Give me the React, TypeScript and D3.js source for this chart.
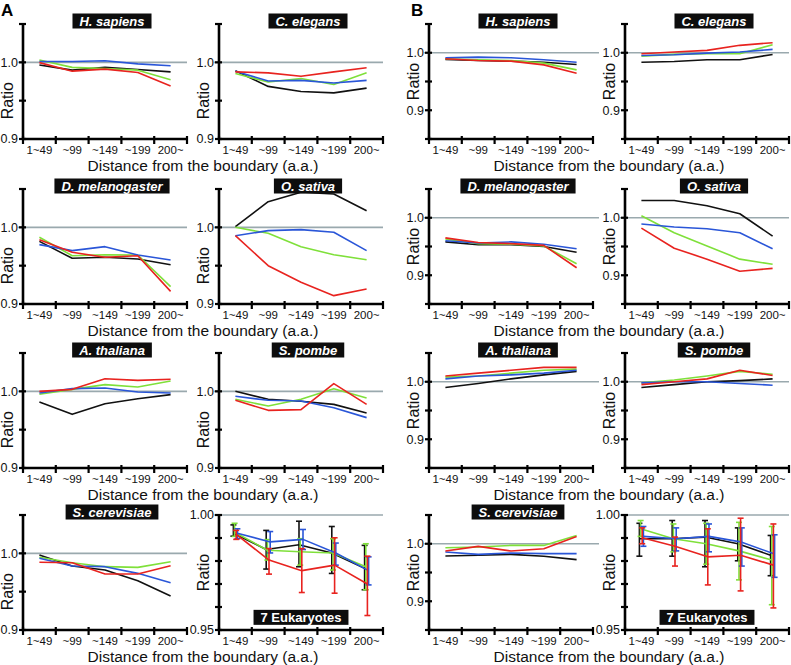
import React from "react";
import * as d3 from "d3";

const categories = ["1~49", "~99", "~149", "~199", "200~"];
// series order in every panel: black, green, blue, red
const seriesKeys = ["black", "green", "blue", "red"];
const seriesColors: Record<string, string> = {
  black: "#111111",
  green: "#7fe03a",
  blue: "#2a56d8",
  red: "#e8231f",
};

// ---------- Panel A ----------
const aHSapiens = [
  [0.9965, 0.9898, 0.9934, 0.9907, 0.9876],
  [1.003, 0.9934, 0.992, 0.9898, 0.9774],
  [1.001, 1.001, 1.002, 0.998, 0.9956],
  [0.9996, 0.9885, 0.9912, 0.9867, 0.969],
];
const aCElegans = [
  [0.989, 0.9686, 0.962, 0.9602, 0.9664],
  [0.9854, 0.9743, 0.9788, 0.9712, 0.9863],
  [0.9885, 0.9757, 0.9765, 0.973, 0.9765],
  [0.9876, 0.9863, 0.9819, 0.9876, 0.9929],
];
const aDMelanogaster = [
  [0.9817, 0.9596, 0.9609, 0.9587, 0.9513],
  [0.987, 0.963, 0.9643, 0.9639, 0.9226],
  [0.9774, 0.9696, 0.9748, 0.9639, 0.9574],
  [0.9839, 0.9674, 0.9609, 0.963, 0.9165],
];
const aOSativa = [
  [1.0009, 1.0335, 1.0457, 1.0435, 1.0217],
  [1.0, 0.9922, 0.9748, 0.9643, 0.9578],
  [0.9891, 0.9957, 0.997, 0.9935, 0.9696],
  [0.9891, 0.95, 0.9283, 0.9109, 0.9196],
];
const aAThaliana = [
  [0.9861, 0.97, 0.9839, 0.9904, 0.9957],
  [0.9961, 1.0026, 1.0087, 1.0057, 1.0135],
  [0.9978, 1.0035, 1.0043, 0.9991, 0.9978],
  [1.0, 1.0026, 1.0165, 1.0143, 1.0157],
];
const aSPombe = [
  [1.0, 0.9896, 0.987, 0.983, 0.9717],
  [0.9896, 0.9809, 0.9896, 1.0035, 0.9913],
  [0.9935, 0.9883, 0.9874, 0.9787, 0.9657],
  [0.9883, 0.9752, 0.9761, 1.01, 0.983],
];
const aSCerevisiae = [
  [0.9978, 0.9835, 0.9783, 0.9643, 0.9443],
  [0.9948, 0.9878, 0.9826, 0.9817, 0.9891],
  [0.9935, 0.9835, 0.9826, 0.9739, 0.9617],
  [0.9883, 0.9878, 0.973, 0.973, 0.9839],
];
const aEukMean = [
  [0.9921, 0.985, 0.9871, 0.9835, 0.9768],
  [0.9925, 0.9847, 0.984, 0.9835, 0.9775],
  [0.9921, 0.9883, 0.9894, 0.9835, 0.9758],
  [0.9916, 0.9804, 0.9758, 0.9782, 0.97],
];
const aEukHigh = [
  [0.9957, 0.9933, 0.9973, 0.995, 0.9868],
  [0.9964, 0.9893, 0.9897, 0.9897, 0.9875],
  [0.994, 0.9928, 0.9937, 0.9878, 0.9818],
  [0.9933, 0.9854, 0.9854, 0.9901, 0.9821],
];
const aEukLow = [
  [0.9908, 0.9765, 0.9775, 0.9746, 0.9675],
  [0.9907, 0.9804, 0.9782, 0.9761, 0.9675],
  [0.9897, 0.9835, 0.985, 0.9782, 0.9696],
  [0.9894, 0.9743, 0.9663, 0.966, 0.9563],
];

// ---------- Panel B ----------
const bHSapiens = [
  [0.9883, 0.9865, 0.9854, 0.9836, 0.9795],
  [0.9895, 0.9877, 0.9865, 0.9819, 0.9702],
  [0.9912, 0.9924, 0.9912, 0.9877, 0.9836],
  [0.9895, 0.9865, 0.9854, 0.9789, 0.9643],
];
const bCElegans = [
  [0.9836, 0.9848, 0.9877, 0.9877, 0.9971],
  [0.9942, 0.9971, 0.9982, 0.9982, 1.014],
  [0.9953, 0.9965, 0.9994, 1.0012, 1.0058],
  [0.9982, 1.0012, 1.0041, 1.0129, 1.0175],
];
const bDMelanogaster = [
  [0.958, 0.953, 0.953, 0.95, 0.94],
  [0.963, 0.955, 0.954, 0.951, 0.92],
  [0.96, 0.956, 0.958, 0.954, 0.946],
  [0.965, 0.957, 0.955, 0.952, 0.913],
];
const bOSativa = [
  [1.03, 1.03, 1.021, 1.007, 0.968],
  [1.0035, 0.974, 0.951, 0.928, 0.919],
  [0.989, 0.984, 0.981, 0.974, 0.946],
  [0.982, 0.947, 0.928, 0.907, 0.912],
];
const bAThaliana = [
  [0.99, 0.997, 1.005, 1.012, 1.018],
  [1.008, 1.01, 1.015, 1.02, 1.022],
  [1.005, 1.01, 1.012, 1.015, 1.02],
  [1.01, 1.015, 1.02, 1.025, 1.025],
];
const bSPombe = [
  [0.99, 0.995, 1.0, 1.002, 1.005],
  [0.998, 1.003, 1.01, 1.018, 1.013],
  [0.998, 1.0, 1.0, 0.997, 0.994],
  [0.995, 1.0, 1.005, 1.02, 1.011],
];
const bSCerevisiae = [
  [0.9787, 0.9799, 0.9816, 0.9782, 0.9724],
  [0.9931, 0.9943, 0.9971, 0.9971, 1.0144],
  [0.9856, 0.9816, 0.9839, 0.9828, 0.9828],
  [0.9874, 0.9954, 0.9874, 0.9914, 1.0126],
];
const bEukMean = [
  [0.9897, 0.9897, 0.9904, 0.9875, 0.9825],
  [0.994, 0.9897, 0.9875, 0.9844, 0.9804],
  [0.9907, 0.9897, 0.9907, 0.9882, 0.983],
  [0.9901, 0.9864, 0.9818, 0.9825, 0.9782],
];
const bEukHigh = [
  [0.9964, 0.9976, 0.9976, 0.9944, 0.9911],
  [0.9976, 0.9961, 0.9964, 0.9968, 0.995],
  [0.995, 0.9944, 0.9961, 0.9944, 0.9914],
  [0.9944, 0.9904, 0.994, 0.9986, 0.9961],
];
const bEukLow = [
  [0.9821, 0.9821, 0.9775, 0.9801, 0.9736],
  [0.9907, 0.984, 0.9786, 0.9718, 0.961],
  [0.9864, 0.9844, 0.984, 0.9778, 0.9729],
  [0.9875, 0.9778, 0.9696, 0.967, 0.9596],
];

const yTicksA = [0.9, 0.95, 1.0, 1.05];
const yLabelsA = ["0.9", "", "1.0", ""];
const yTicksB = [0.85, 0.9, 0.95, 1.0, 1.05];
const yLabelsB = ["", "0.9", "", "1.0", ""];
const yTicksEuk = [0.95, 0.96, 0.97, 0.98, 0.99, 1.0];
const yLabelsEuk = ["0.95", "", "", "", "", "1.00"];

const FONT = "'Liberation Sans', Arial, Helvetica, sans-serif";
const PW = 164;
const PH = 115;
const colX = [23, 219, 429, 625];
const rowY = [24, 189, 353, 515];

let measureCtx: CanvasRenderingContext2D | null = null;
function textWidth(text: string, font: string) {
  if (!measureCtx) measureCtx = document.createElement("canvas").getContext("2d");
  if (!measureCtx) return text.length * 7;
  measureCtx.font = font;
  return measureCtx.measureText(text).width;
}

type PanelProps = {
  x0: number;
  y0: number;
  domain: [number, number];
  ticks: number[];
  labels: string[];
  data: number[][];
  title: string;
  italic?: boolean;
  low?: number[][];
  high?: number[][];
  ratioAt: number;
  gapRight?: number;
};

function Panel(p: PanelProps) {
  const x = d3.scaleBand<string>().domain(categories).range([p.x0, p.x0 + PW]);
  const y = d3.scaleLinear().domain(p.domain).range([p.y0 + PH, p.y0]);
  const isEuk = !!p.low;
  const offsets: Record<string, number> = isEuk
    ? { black: -2, green: -0.8, blue: 2, red: 0.8 }
    : { black: 0, green: 0, blue: 0, red: 0 };
  const line = d3
    .line<number>()
    .x((_, i) => (x(categories[i]) as number) + x.bandwidth() / 2)
    .y((v) => y(v));
  const boundaries = d3.range(categories.length + 1).map((i) => p.x0 + (PW * i) / categories.length);
  const titleFont = `${p.italic ? "italic " : ""}bold 13px ${FONT}`;
  const tw = textWidth(p.title, titleFont);
  const boxW = tw + 14;
  const boxCx = isEuk ? p.x0 + PW / 2 : p.x0 + 89;
  const boxCy = isEuk ? y(0.9555) : p.y0 - 3;
  const bottom = p.y0 + PH;
  return (
    <g>
      {/* reference line at 1.0 */}
      <line
        x1={p.x0 - 5}
        x2={p.x0 + PW + (p.gapRight ?? 0)}
        y1={y(1)}
        y2={y(1)}
        stroke="#9aa9ae"
        strokeWidth={1.6}
      />
      {/* data */}
      {p.data.map((vals, si) => {
        const key = seriesKeys[si];
        const dx = offsets[key];
        return (
          <g key={key} transform={`translate(${dx},0)`}>
            {p.low &&
              p.high &&
              vals.map((_, i) => {
                const cx = (x(categories[i]) as number) + x.bandwidth() / 2;
                const lo = y(p.low![si][i]);
                const hi = y(p.high![si][i]);
                return (
                  <g key={i} stroke={seriesColors[key]} strokeWidth={1.6}>
                    <line x1={cx} x2={cx} y1={lo} y2={hi} />
                    <line x1={cx - 3} x2={cx + 3} y1={lo} y2={lo} />
                    <line x1={cx - 3} x2={cx + 3} y1={hi} y2={hi} />
                  </g>
                );
              })}
            <path d={line(vals) || ""} fill="none" stroke={seriesColors[key]} strokeWidth={1.6} strokeLinejoin="round" />
          </g>
        );
      })}
      {/* axes */}
      <line x1={p.x0} x2={p.x0} y1={p.y0} y2={bottom + 1} stroke="#000" strokeWidth={2.6} />
      <line x1={p.x0 - 1.2} x2={p.x0 + PW} y1={bottom} y2={bottom} stroke="#000" strokeWidth={2.6} />
      {p.ticks.map((t, i) => (
        <g key={t}>
          <line x1={p.x0 - 4} x2={p.x0 + 3} y1={y(t)} y2={y(t)} stroke="#000" strokeWidth={2.2} />
          {p.labels[i] && (
            <text
              x={p.x0 - 5}
              y={y(t)}
              dy="0.35em"
              textAnchor="end"
              fontFamily={FONT}
              fontSize={12.5}
              fill="#111"
            >
              {p.labels[i]}
            </text>
          )}
        </g>
      ))}
      {boundaries.map((bx, i) => (
        <line key={i} x1={bx} x2={bx} y1={bottom - 3} y2={bottom + 5} stroke="#000" strokeWidth={2.2} />
      ))}
      {categories.map((c) => (
        <text
          key={c}
          x={(x(c) as number) + x.bandwidth() / 2}
          y={bottom + 15}
          textAnchor="middle"
          fontFamily={FONT}
          fontSize={11.5}
          fill="#111"
        >
          {c}
        </text>
      ))}
      <text
        transform={`translate(${p.x0 - 10},${y(p.ratioAt)}) rotate(-90)`}
        textAnchor="middle"
        fontFamily={FONT}
        fontSize={16}
        fill="#111"
      >
        Ratio
      </text>
      {/* title box */}
      <rect x={boxCx - boxW / 2} y={boxCy - 7.5} width={boxW} height={15} fill="#0d0d0d" />
      <text
        x={boxCx}
        y={boxCy}
        dy="0.36em"
        textAnchor="middle"
        fontFamily={FONT}
        fontSize={13}
        fontWeight="bold"
        fontStyle={p.italic ? "italic" : "normal"}
        fill="#fff"
      >
        {p.title}
      </text>
    </g>
  );
}

const domA: [number, number] = [0.9, 1.05];
const domB: [number, number] = [0.85, 1.05];
const domEuk: [number, number] = [0.95, 1.0];

export default function App() {
  const axisTitles = rowY.flatMap((ry, r) => [
    { x: (colX[0] + colX[1] + PW) / 2, y: ry + PH + 31.5, key: `a${r}` },
    { x: (colX[2] + colX[3] + PW) / 2, y: ry + PH + 31.5, key: `b${r}` },
  ]);
  const A = { domain: domA, ticks: yTicksA, labels: yLabelsA, ratioAt: 0.95, italic: true };
  const B = { domain: domB, ticks: yTicksB, labels: yLabelsB, ratioAt: 0.95, italic: true };
  return (
    <svg
      width={791}
      height={665}
      viewBox="0 0 791 665"
      style={{ position: "absolute", left: 0, top: 0, background: "#fff" }}
    >
      <rect x={0} y={0} width={791} height={665} fill="#fff" />
      <text x={1} y={15.5} fontFamily={FONT} fontWeight="bold" fontSize={17}>A</text>
      <text x={411} y={15.5} fontFamily={FONT} fontWeight="bold" fontSize={17}>B</text>

      <Panel {...A} x0={colX[0]} y0={rowY[0]} data={aHSapiens} title="H. sapiens" />
      <Panel {...A} x0={colX[1]} y0={rowY[0]} data={aCElegans} title="C. elegans" />
      <Panel {...A} x0={colX[0]} y0={rowY[1]} data={aDMelanogaster} title="D. melanogaster" />
      <Panel {...A} x0={colX[1]} y0={rowY[1]} data={aOSativa} title="O. sativa" />
      <Panel {...A} x0={colX[0]} y0={rowY[2]} data={aAThaliana} title="A. thaliana" />
      <Panel {...A} x0={colX[1]} y0={rowY[2]} data={aSPombe} title="S. pombe" />
      <Panel {...A} x0={colX[0]} y0={rowY[3]} data={aSCerevisiae} title="S. cerevisiae" />
      <Panel
        x0={colX[1]}
        y0={rowY[3]}
        domain={domEuk}
        ticks={yTicksEuk}
        labels={yLabelsEuk}
        ratioAt={0.975}
        data={aEukMean}
        low={aEukLow}
        high={aEukHigh}
        title="7 Eukaryotes"
        italic={false}
      />

      <Panel {...B} x0={colX[2]} y0={rowY[0]} data={bHSapiens} title="H. sapiens" gapRight={6} />
      <Panel {...B} x0={colX[3]} y0={rowY[0]} data={bCElegans} title="C. elegans" />
      <Panel {...B} x0={colX[2]} y0={rowY[1]} data={bDMelanogaster} title="D. melanogaster" gapRight={6} />
      <Panel {...B} x0={colX[3]} y0={rowY[1]} data={bOSativa} title="O. sativa" />
      <Panel {...B} x0={colX[2]} y0={rowY[2]} data={bAThaliana} title="A. thaliana" gapRight={6} />
      <Panel {...B} x0={colX[3]} y0={rowY[2]} data={bSPombe} title="S. pombe" />
      <Panel {...B} x0={colX[2]} y0={rowY[3]} data={bSCerevisiae} title="S. cerevisiae" gapRight={6} />
      <Panel
        x0={colX[3]}
        y0={rowY[3]}
        domain={domEuk}
        ticks={yTicksEuk}
        labels={yLabelsEuk}
        ratioAt={0.975}
        data={bEukMean}
        low={bEukLow}
        high={bEukHigh}
        title="7 Eukaryotes"
        italic={false}
      />

      {axisTitles.map((t) => (
        <text key={t.key} x={t.x} y={t.y} textAnchor="middle" fontFamily={FONT} fontSize={15.5} fill="#111">
          Distance from the boundary (a.a.)
        </text>
      ))}
    </svg>
  );
}
